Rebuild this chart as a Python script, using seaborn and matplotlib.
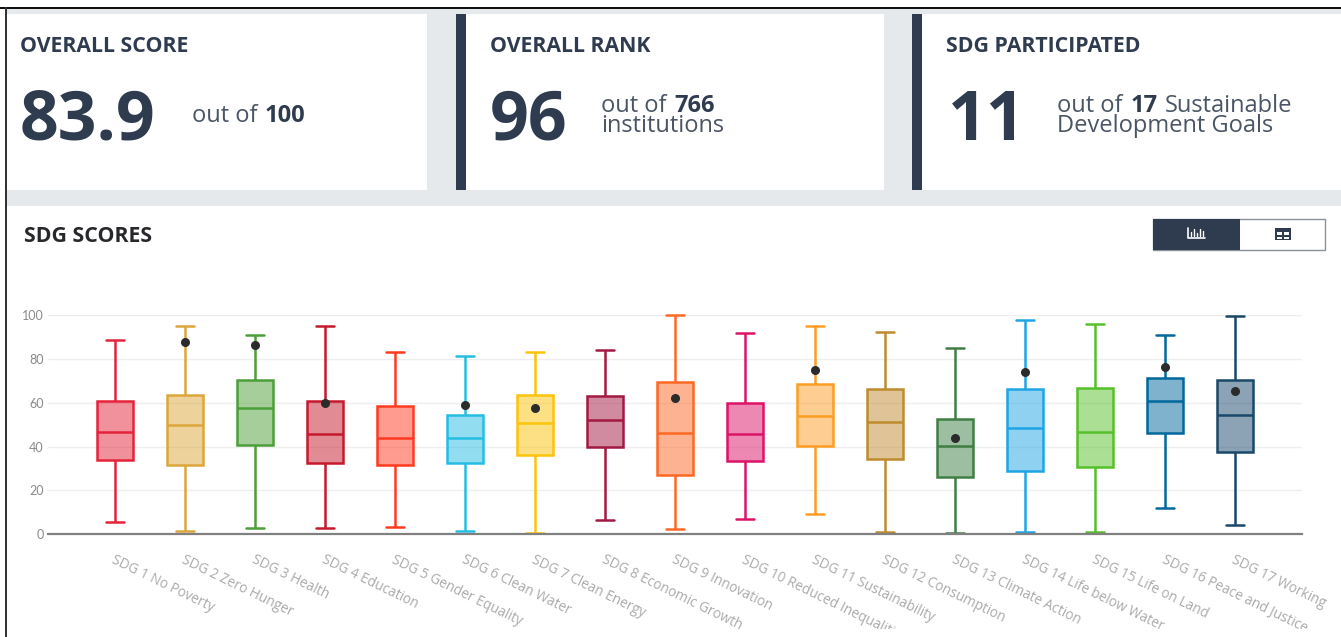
import numpy as np
import pandas as pd
import matplotlib
matplotlib.use('Agg')
import matplotlib.pyplot as plt
from matplotlib.colors import to_rgba
from matplotlib.lines import Line2D
from matplotlib.patches import Rectangle
from matplotlib.transforms import Affine2D, Bbox, ScaledTranslation
import seaborn as sns

# values
categories = ['SDG 1 No Poverty', 'SDG 2 Zero Hunger', 'SDG 3 Health', 'SDG 4 Education',
              'SDG 5 Gender Equality', 'SDG 6 Clean Water', 'SDG 7 Clean Energy',
              'SDG 8 Economic Growth', 'SDG 9 Innovation', 'SDG 10 Reduced Inequalities',
              'SDG 11 Sustainability', 'SDG 12 Consumption', 'SDG 13 Climate Action',
              'SDG 14 Life below Water', 'SDG 15 Life on Land', 'SDG 16 Peace and Justice',
              'SDG 17 Working']
lows = [5.6, 1.4, 2.7, 3.0, 3.3, 1.4, 0.6, 6.5, 2.4, 6.8, 9.1, 0.9, 0.8, 1.2, 1.2, 11.9, 4.3]
q1s = [33.9, 31.6, 40.9, 32.5, 31.6, 32.5, 36.3, 40.0, 27.0, 33.4, 40.1, 34.5, 26.1, 29.0, 30.5, 46.0, 37.4]
medians = [46.8, 50.0, 57.6, 45.9, 43.8, 43.8, 50.8, 52.0, 46.2, 45.9, 53.8, 51.4, 40.3, 48.6, 46.8, 60.6, 54.3]
q3s = [60.8, 63.7, 70.4, 60.9, 58.7, 54.3, 63.4, 63.1, 69.5, 59.9, 68.5, 66.1, 52.4, 66.1, 66.6, 71.3, 70.4]
highs = [88.6, 95.1, 91.0, 95.1, 83.3, 81.5, 83.3, 83.9, 100.0, 91.9, 95.1, 92.4, 85.0, 97.7, 95.7, 90.7, 99.4]
scores = [np.nan, 87.5, 86.2, 59.7, np.nan, 58.8, 57.4, np.nan, 62.0, np.nan, 75.0, np.nan, 43.9, 73.9, np.nan, 76.1, 65.5]
colors = ['#e5243b', '#dda63a', '#4c9f38', '#c5192d', '#ff3a21', '#26bde2', '#fcc30b', '#a21942',
          '#fd6925', '#dd1367', '#fd9d24', '#bf8b2e', '#3f7e44', '#1fa5e4', '#56c02b', '#00689d', '#19486a']
yticks = [0, 20, 40, 60, 80, 100]

W, H = 1341, 637
NAVY = '#2f3b4e'
BAND = '#e6e9eb'
GREY = '#4a5565'

sns.set_theme(style='white')
plt.rcParams['font.family'] = ['Open Sans', 'DejaVu Sans']

fig = plt.figure(figsize=(W / 100, H / 100), dpi=100, facecolor='white')
# pixel coordinates, origin at the top left like the picture
px = Affine2D().scale(1 / W, -1 / H).translate(0, 1) + fig.transFigure


def rect(x0, y0, x1, y1, color, **kw):
    fig.add_artist(Rectangle((x0, y0), x1 - x0, y1 - y0, transform=px, facecolor=color,
                             edgecolor=kw.pop('edgecolor', 'none'), **kw))


def label(x, y, s, size, weight='normal', color=NAVY):
    fig.text(x, y, s, transform=px, fontsize=size, fontweight=weight, color=color, va='baseline')


# cards
rect(7, 9, W, 206, BAND)
rect(7, 14, 427, 190, 'white')
rect(456, 14, 884, 190, 'white')
rect(912, 14, W, 190, 'white')
rect(456, 14, 466, 190, NAVY)
rect(912, 14, 922, 190, NAVY)
rect(0, 7, W, 9, '#111111')
rect(5, 7, 7, H, '#333333')

label(20, 52, 'OVERALL SCORE', 15.3, 'bold')
label(490, 52, 'OVERALL RANK', 15.3, 'bold')
label(946, 52, 'SDG PARTICIPATED', 15.3, 'bold')
label(24, 242, 'SDG SCORES', 15.3, 'bold', '#26282c')

label(20, 140, '83.9', 49, 'bold')
label(490, 140, '96', 49, 'bold')
label(948, 140, '11', 49, 'bold')

label(192, 122, 'out of', 17, color=GREY)
label(265, 122, '100', 17, 'bold')
label(601, 112, 'out of', 17, color=GREY)
label(674, 112, '766', 17, 'bold')
label(601, 132, 'institutions', 17, color=GREY)
label(1057, 112, 'out of', 17, color=GREY)
label(1131, 112, '17', 17, 'bold')
label(1165, 112, 'Sustainable', 17, color=GREY)
label(1057, 132, 'Development Goals', 17, color=GREY)

# toggle button
rect(1153.5, 218.5, 1325.5, 249.5, 'white', edgecolor='#8a919b', linewidth=1)
rect(1153.5, 218.5, 1240, 249.5, NAVY)
fig.add_artist(Line2D([1188, 1188, 1205], [228, 238, 238], transform=px, color='white', lw=1.2))
for x, top in [(1191, 232), (1194, 229), (1197, 233), (1200, 229), (1203, 231)]:
    fig.add_artist(Line2D([x, x], [top, 236], transform=px, color='white', lw=1))
rect(1275, 228, 1291, 240, NAVY)
rect(1277, 232, 1282, 235, 'white')
rect(1284, 232, 1289, 235, 'white')
rect(1277, 236.5, 1282, 238.5, 'white')
rect(1284, 236.5, 1289, 238.5, 'white')

# chart
ax = fig.add_axes([48 / W, 1 - 534.3 / H, (1302 - 48) / W, 219.3 / H], facecolor='none')
for i, cat in enumerate(categories):
    df = pd.DataFrame({'sdg': cat, 'score': [lows[i], q1s[i], medians[i], q3s[i], highs[i]]})
    sns.boxplot(data=df, x='sdg', y='score', order=categories, ax=ax, whis=(0, 100), width=0.51,
                color=colors[i], linecolor=colors[i], linewidth=1.8, saturation=1,
                boxprops={'facecolor': to_rgba(colors[i], 0.5)})
sns.stripplot(x=categories, y=scores, order=categories, ax=ax, jitter=False, color='#2b2b2b',
              size=6.5, zorder=5)

ax.set_xlim((48 - 115) / 70, (1302 - 115) / 70)
ax.set_ylim(0, 100)
ax.set_xlabel('')
ax.set_ylabel('')
ax.set_yticks(yticks)
ax.grid(axis='y', color='#eeeeee', lw=1)
ax.set_axisbelow(True)
sns.despine(ax=ax, left=True, top=True, right=True)
ax.spines['bottom'].set_color('#808080')
ax.spines['bottom'].set_linewidth(1.6)
ax.tick_params(axis='both', length=0)
ax.tick_params(axis='y', labelsize=9, labelcolor='#8a8a8a', pad=3)
for t in ax.get_yticklabels():
    t.set_family(['Lato', 'DejaVu Sans'])
ax.tick_params(axis='x', labelsize=9.8, labelcolor='#aaaaaa', pad=13)

clip = Bbox([[0, H - 629], [W, H]])
shift = ScaledTranslation(1 / 100, 0, fig.dpi_scale_trans)
for t in ax.get_xticklabels():
    t.set_rotation(-26)
    t.set_ha('left')
    t.set_va('top')
    t.set_rotation_mode('anchor')
    t.set_transform(t.get_transform() + shift)
    t.set_clip_box(clip)
    t.set_clip_on(True)

for art in ax.lines + ax.patches:
    art.set_clip_on(False)
for coll in ax.collections:
    coll.set_clip_on(False)

fig.savefig('out.png', dpi=100)
